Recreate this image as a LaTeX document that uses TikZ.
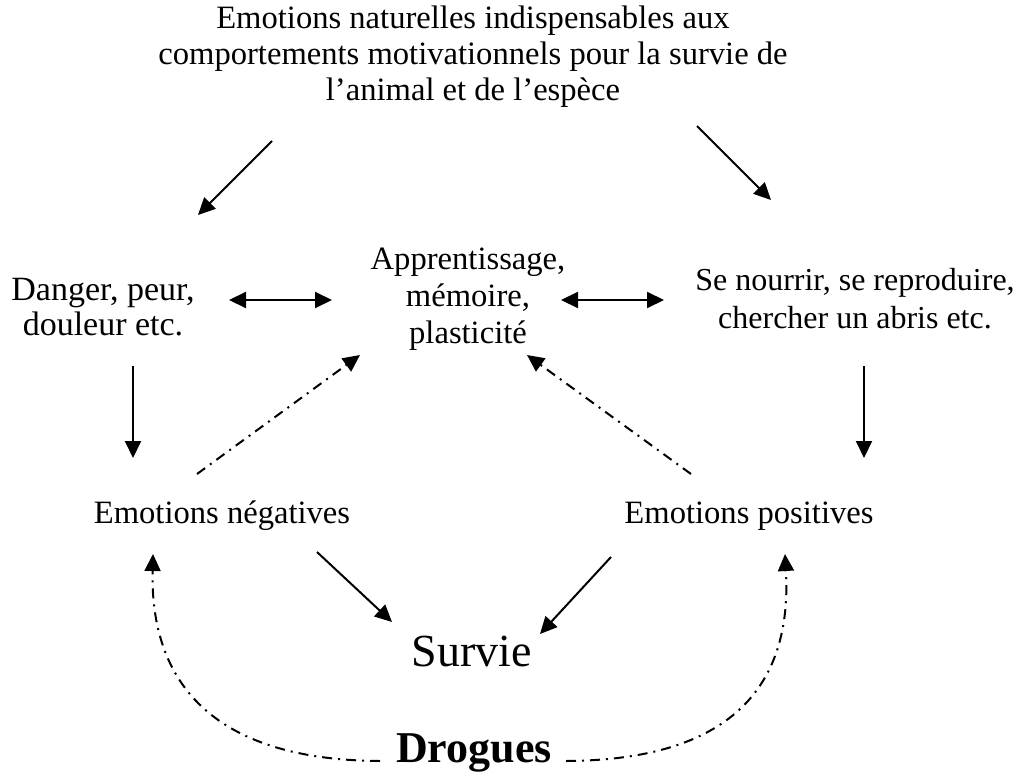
\documentclass[tikz,border=0pt]{standalone}
\usepackage{fontspec}
\setmainfont{Liberation Serif}
\usetikzlibrary{arrows.meta,calc}
\tikzset{
  lbl/.style={align=center,inner sep=0pt,font=\fontsize{16.3}{18}\selectfont},
  con/.style={line width=1pt,-{Triangle[length=8.5pt,width=8pt]}},
  dcon/.style={con,{Triangle[length=8.5pt,width=8pt]}-{Triangle[length=8.5pt,width=8pt]}},
  dd/.style={con,dash pattern=on 5pt off 3pt on 1pt off 3pt}
}
\begin{document}
\begin{tikzpicture}[x=0.5pt,y=-0.5pt]
\useasboundingbox (0,0) rectangle (1023,776);
\node[lbl] (top) at (473,57) {Emotions naturelles indispensables aux\\comportements motivationnels pour la survie de\\l’animal et de l’espèce};
\node[lbl,font=\fontsize{17}{17.5}\selectfont] (danger) at (103,307) {Danger, peur,\\douleur etc.};
\node[lbl,font=\fontsize{16.3}{18.5}\selectfont] (appr) at (468,299) {Apprentissage,\\mémoire,\\plasticité};
\node[lbl,font=\fontsize{16}{19}\selectfont] (se) at (855,299) {Se nourrir, se reproduire,\\chercher un abris etc.};
\node[lbl] (neg) at (222,516) {Emotions négatives};
\node[lbl] (pos) at (749,516) {Emotions positives};
\node[lbl,font=\fontsize{23}{26}\selectfont] (survie) at (472,651) {Survie};
\node[lbl,font=\fontsize{22}{26}\selectfont\bfseries] (drogues) at (474,753) {Drogues};

\draw[con] ($(top)+(-201,84)$) -- ($(danger)+(95,-92)$);
\draw[con] ($(top)+(224,69)$) -- ($(se)+(-84,-99)$);
\draw[dcon] ($(danger)+(126,-7)$) -- ($(appr)+(-136,1)$);
\draw[dcon] ($(appr)+(93,1)$) -- ($(se)+(-191,1)$);
\draw[con] ($(danger)+(30,59)$) -- ($(neg)+(-89,-58)$);
\draw[con] ($(se)+(9,67)$) -- ($(pos)+(115,-58)$);
\draw[dd] ($(neg)+(-25,-42)$) -- ($(appr)+(-108,56)$);
\draw[dd] ($(pos)+(-58,-42)$) -- ($(appr)+(59,56)$);
\draw[con] ($(neg)+(95,36)$) -- ($(survie)+(-80,-29)$);
\draw[con] ($(pos)+(-138,41)$) -- ($(survie)+(68,-17)$);
\draw[dd] ($(drogues)+(-94,8)$) .. controls (210,760) and (150,680) .. ($(neg)+(-69,38)$);
\draw[dd] ($(drogues)+(92,8)$) .. controls (738,760) and (792,680) .. ($(pos)+(36,38)$);
\end{tikzpicture}
\end{document}
